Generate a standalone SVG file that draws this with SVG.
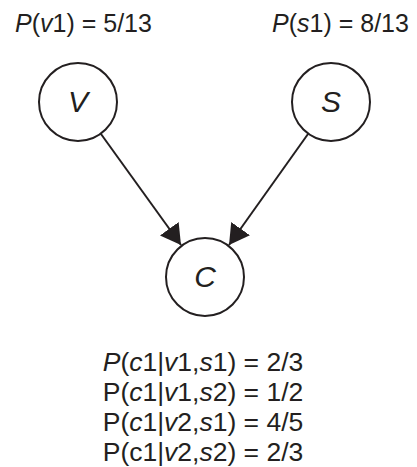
<svg xmlns="http://www.w3.org/2000/svg" width="417" height="467" viewBox="0 0 417 467">
<style>
text{font-family:"Liberation Sans",Arial,sans-serif;fill:#231f20}
.top{font-size:25px}
.cpt{font-size:26.5px}
.nd{font-size:30px;font-style:italic}
.i{font-style:italic}
circle{fill:#fff;stroke:#231f20;stroke-width:2}
.edge{stroke:#231f20;stroke-width:2;fill:none}
</style>
<defs>
<marker id="ah" markerUnits="userSpaceOnUse" markerWidth="22" markerHeight="24" refX="20" refY="11.5" orient="auto">
<path d="M0,0 L20,11.5 L0,23 z" fill="#231f20"/>
</marker>
</defs>
<rect width="417" height="467" fill="#fff"/>
<g id="connectors">
<line class="edge" x1="101" y1="134" x2="181" y2="245" marker-end="url(#ah)"/>
<line class="edge" x1="308" y1="134" x2="229" y2="245" marker-end="url(#ah)"/>
</g>
<g id="node-V">
<circle cx="78" cy="102" r="39"/>
<text class="nd" x="78" y="112" text-anchor="middle">V</text>
</g>
<g id="node-S">
<circle cx="331" cy="102" r="39"/>
<text class="nd" x="331" y="112" text-anchor="middle">S</text>
</g>
<g id="node-C">
<circle cx="205" cy="277" r="39"/>
<text class="nd" x="205" y="287" text-anchor="middle">C</text>
</g>
<g id="prior-v">
<text class="top" x="15" y="32"><tspan class="i">P</tspan>(<tspan class="i">v</tspan>1) = 5/13</text>
</g>
<g id="prior-s">
<text class="top" x="272" y="32"><tspan class="i">P</tspan>(<tspan class="i">s</tspan>1) = 8/13</text>
</g>
<g id="cpt">
<text class="cpt" x="203" y="371" text-anchor="middle"><tspan class="i">P</tspan>(<tspan class="i">c</tspan>1|<tspan class="i">v</tspan>1,<tspan class="i">s</tspan>1) = 2/3</text>
<text class="cpt" x="203" y="401" text-anchor="middle">P(<tspan class="i">c</tspan>1|<tspan class="i">v</tspan>1,<tspan class="i">s</tspan>2) = 1/2</text>
<text class="cpt" x="203" y="431" text-anchor="middle">P(<tspan class="i">c</tspan>1|<tspan class="i">v</tspan>2,<tspan class="i">s</tspan>1) = 4/5</text>
<text class="cpt" x="203" y="461" text-anchor="middle">P(c1|<tspan class="i">v</tspan>2,<tspan class="i">s</tspan>2) = 2/3</text>
</g>
</svg>
